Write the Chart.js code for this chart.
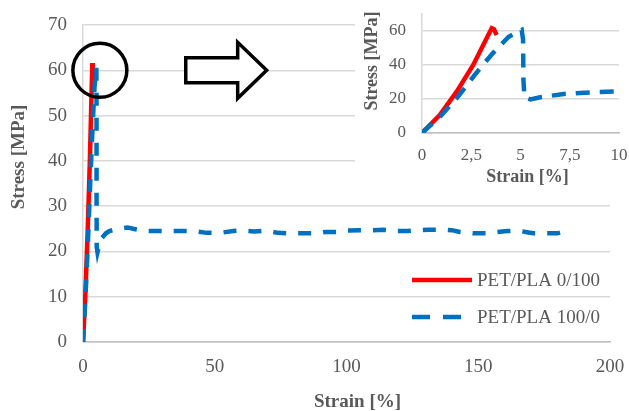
<!DOCTYPE html>
<html>
<head>
<meta charset="utf-8">
<script src="https://cdn.jsdelivr.net/npm/chart.js@4.4.0/dist/chart.umd.min.js"></script>
<style>
  html, body { margin: 0; padding: 0; background: #fff; }
  #wrap { position: relative; width: 629px; height: 411px; }
  #mainChart { position: absolute; left: 0; top: 0; }
  #insetBox { position: absolute; left: 355px; top: 0; width: 274px; height: 195px; background: #fff; }
</style>
</head>
<body>
<div id="wrap">
  <canvas id="mainChart" width="629" height="411"></canvas>
  <div id="insetBox"><canvas id="insetChart" width="274" height="195"></canvas></div>
</div>
<script>
// PET/PLA 0/100 (red)
const strainPLA = [0, 0.9, 1.76, 2.6, 3.28, 3.54, 3.65, 3.79];
const stressPLA = [0, 10.6, 24.3, 40, 55.7, 61.6, 61, 57.6];

// PET/PLA 100/0 (blue, dashed)
const strainPET = [0, 0.9, 1.8, 2.8, 3.6, 4.4, 5.06, 5.13, 5.15, 5.2,
  5.5, 6, 7.2, 8.7, 10, 12, 14, 17, 19, 23.5,
  28, 33, 38, 42, 47, 52, 57, 60, 65, 69,
  74, 78, 83, 88, 92, 97, 100, 105, 110, 114,
  119, 123, 127, 131, 136, 140, 143, 148, 153, 157,
  161, 165, 169, 171, 175, 180, 184];
const stressPET = [0, 9.4, 21, 36, 47, 56.6, 60.6, 55, 31, 21,
  19.8, 21, 23, 24, 24.5, 24.8, 25.0, 25.3, 25.0, 24.5,
  24.5, 24.5, 24.5, 24.5, 24.1, 24.1, 24.5, 24.6, 24.4, 24.6,
  24.1, 24.0, 24.0, 24.0, 24.3, 24.3, 24.6, 24.7, 24.7, 24.8,
  24.5, 24.5, 24.7, 24.8, 24.8, 24.7, 24.3, 24.0, 24.0, 24.3,
  24.5, 24.6, 24.2, 24.0, 24.0, 24.0, 24.6];

const seriesNames = ['PET/PLA 0/100', 'PET/PLA 100/0'];

// axis ticks
const mainXMax = 200, mainXStep = 50;
const mainYMax = 70, mainYStep = 10;
const insetXMax = 10, insetXStep = 2.5;
const insetYMax = 70;
const insetYTicks = [0, 20, 40, 60];

const serif = "'Liberation Serif', 'Times New Roman', serif";
const textGrey = '#595959';
const red = '#ff0000';
const blue = '#0070c0';

function toPoints(xs, ys) {
  return xs.map((x, i) => ({ x: x, y: ys[i] }));
}

function makeDatasets(dash) {
  return [
    {
      label: seriesNames[0],
      data: toPoints(strainPLA, stressPLA),
      borderColor: red,
      borderWidth: 4.5,
      pointRadius: 0,
      order: 1
    },
    {
      label: seriesNames[1],
      data: toPoints(strainPET, stressPET),
      borderColor: blue,
      borderWidth: 4.5,
      borderDash: dash,
      pointRadius: 0,
      order: 0
    }
  ];
}

// fixed box sizes so the plot areas land where the reference has them
function fixX(h) {
  return s => { s.height = h; s.paddingLeft = 0; s.paddingRight = 0; };
}
function fixY(w) {
  return s => { s.width = w; s.paddingTop = 0; s.paddingBottom = 0; };
}

// titles, legend, circle and arrow for the main chart
const mainDecor = {
  id: 'mainDecor',
  afterDraw(chart) {
    const c = chart.ctx;
    const xs = chart.scales.x, ys = chart.scales.y;
    const area = chart.chartArea;
    c.save();
    c.fillStyle = textGrey;
    c.font = 'bold 19px ' + serif;
    c.textAlign = 'center';
    c.textBaseline = 'middle';
    c.fillText('Strain [%]', (area.left + area.right) / 2 + 11, 402);
    c.translate(19, 157);
    c.rotate(-Math.PI / 2);
    c.fillText('Stress [MPa]', 0, 0);
    c.restore();

    // legend
    c.save();
    const ds = chart.data.datasets;
    const lx = 412, lw = 60;
    [280, 317].forEach((ly, i) => {
      c.beginPath();
      c.strokeStyle = ds[i].borderColor;
      c.lineWidth = 4.5;
      c.setLineDash(i === 1 ? [18, 13] : []);
      c.moveTo(lx, ly);
      c.lineTo(lx + lw, ly);
      c.stroke();
      c.setLineDash([]);
      c.fillStyle = textGrey;
      c.font = '19px ' + serif;
      c.textAlign = 'left';
      c.textBaseline = 'middle';
      c.fillText(ds[i].label, lx + lw + 5, ly + 1);
    });
    c.restore();

    // circle round the peak
    c.save();
    c.beginPath();
    c.strokeStyle = '#000';
    c.lineWidth = 3.5;
    c.arc(xs.getPixelForValue(6.4), ys.getPixelForValue(60), 27, 0, Math.PI * 2);
    c.stroke();

    // arrow pointing to the inset
    const ay = ys.getPixelForValue(60);
    const x0 = xs.getPixelForValue(39), x1 = xs.getPixelForValue(58.7), x2 = xs.getPixelForValue(69.7);
    c.beginPath();
    c.moveTo(x0, ay - 12.5);
    c.lineTo(x1, ay - 12.5);
    c.lineTo(x1, ay - 28);
    c.lineTo(x2, ay);
    c.lineTo(x1, ay + 28);
    c.lineTo(x1, ay + 12.5);
    c.lineTo(x0, ay + 12.5);
    c.closePath();
    c.fillStyle = '#fff';
    c.fill();
    c.lineWidth = 3.5;
    c.lineJoin = 'miter';
    c.stroke();
    c.restore();
  }
};

const insetDecor = {
  id: 'insetDecor',
  afterDraw(chart) {
    const c = chart.ctx;
    const area = chart.chartArea;
    c.save();
    c.fillStyle = textGrey;
    c.font = 'bold 18px ' + serif;
    c.textAlign = 'center';
    c.textBaseline = 'middle';
    c.fillText('Strain [%]', (area.left + area.right) / 2 + 7, 177);
    c.translate(17, 61);
    c.rotate(-Math.PI / 2);
    c.fillText('Stress [MPa]', 0, 0);
    c.restore();
  }
};

new Chart(document.getElementById('mainChart').getContext('2d'), {
  type: 'line',
  data: { datasets: makeDatasets([13, 12]) },
  options: {
    responsive: false,
    animation: false,
    layout: { padding: { left: 0, right: 19, top: 25, bottom: 0 } },
    plugins: { legend: { display: false }, tooltip: { enabled: false } },
    scales: {
      x: {
        type: 'linear', min: 0, max: mainXMax,
        ticks: { stepSize: mainXStep, padding: 14, color: textGrey, font: { family: serif, size: 19 }, maxRotation: 0 },
        grid: { display: false, drawTicks: false },
        border: { color: '#bfbfbf', width: 1.5 },
        afterFit: fixX(69)
      },
      y: {
        min: 0, max: mainYMax,
        ticks: { stepSize: mainYStep, padding: 16, color: textGrey, font: { family: serif, size: 19 } },
        grid: { color: '#d9d9d9', lineWidth: 1.5, drawTicks: false },
        border: { color: '#d9d9d9', width: 1.5 },
        afterFit: fixY(83)
      }
    }
  },
  plugins: [mainDecor]
});

new Chart(document.getElementById('insetChart').getContext('2d'), {
  type: 'line',
  data: { datasets: makeDatasets([14, 10]) },
  options: {
    responsive: false,
    animation: false,
    layout: { padding: { left: 0, right: 10, top: 14, bottom: 0 } },
    plugins: { legend: { display: false }, tooltip: { enabled: false } },
    scales: {
      x: {
        type: 'linear', min: 0, max: insetXMax,
        ticks: {
          stepSize: insetXStep, padding: 12, color: textGrey, font: { family: serif, size: 17 }, maxRotation: 0,
          callback: v => String(v).replace('.', ',')
        },
        grid: { display: false, drawTicks: false },
        border: { color: '#bfbfbf', width: 1.5 },
        afterFit: fixX(62)
      },
      y: {
        min: 0, max: insetYMax,
        afterBuildTicks: s => { s.ticks = insetYTicks.map(v => ({ value: v })); },
        ticks: { padding: 16, color: textGrey, font: { family: serif, size: 17 } },
        grid: { color: '#d9d9d9', lineWidth: 1.5, drawTicks: false },
        border: { color: '#d9d9d9', width: 1.5 },
        afterFit: fixY(67)
      }
    }
  },
  plugins: [insetDecor]
});
</script>
</body>
</html>
